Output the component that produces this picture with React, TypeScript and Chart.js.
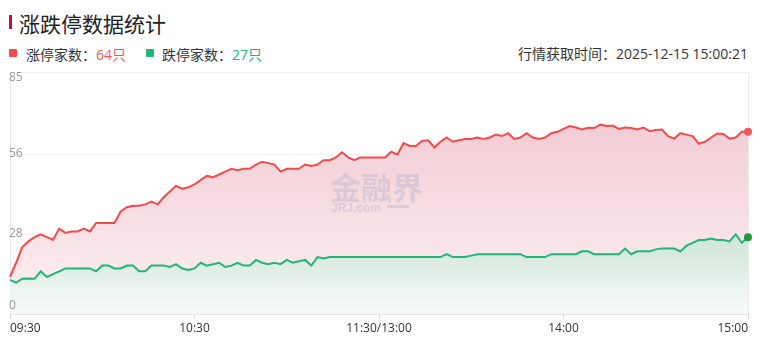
import React, { useEffect, useRef } from "react";
import { Chart, registerables } from "chart.js";

Chart.register(...registerables);

// 2-minute samples from 09:30 to 11:30 and 13:00 to 15:00
function buildTimes(): string[] {
  const out: string[] = [];
  const pad = (n: number) => (n < 10 ? "0" + n : "" + n);
  for (let m = 9 * 60 + 30; m <= 11 * 60 + 30; m += 2) {
    out.push(pad(Math.floor(m / 60)) + ":" + pad(m % 60));
  }
  out[out.length - 1] = "11:30/13:00";
  for (let m = 13 * 60 + 2; m <= 15 * 60; m += 2) {
    out.push(pad(Math.floor(m / 60)) + ":" + pad(m % 60));
  }
  return out;
}
const times = buildTimes();

const tickLabels = ["09:30", "10:30", "11:30/13:00", "14:00", "15:00"];
const yTicks = [0, 28, 56, 85];

const upCounts = [
  13, 18, 23.5, 25.5, 27, 28, 27, 26, 30, 28.5,
  29, 29, 30, 29, 32, 32, 32, 32, 36, 37.5,
  38, 38, 38.5, 39.5, 38.5, 41, 43, 45, 44, 44.5,
  45.5, 47, 48.5, 48, 49, 50, 51, 50.5, 51, 51,
  52.5, 53.5, 53, 52.5, 50, 51, 51, 51, 52.5, 52,
  52.5, 54, 54, 55, 56.8, 55, 54, 55, 55, 55,
  55, 55, 57, 56, 60, 59, 59, 60.8, 61, 58.5,
  60.5, 62, 60.5, 61, 61.5, 61.5, 62, 61.5, 62, 63,
  62.5, 63.5, 61.5, 62, 63.5, 62, 61.5, 62, 63.5, 64,
  65, 66, 65.5, 64.8, 65.4, 65.3, 66.5, 66, 66.2, 65,
  65.5, 65.3, 64.8, 65.5, 64.2, 64.6, 64.8, 62.5, 61.6, 63.5,
  63, 62.5, 59.8, 60.5, 62, 63.4, 63.2, 61.6, 62, 64,
  64,
];

const downCounts = [
  12, 11, 12.4, 12.5, 12.4, 15, 13, 14, 15, 16,
  16, 16, 16, 16, 15, 17, 17, 16, 16, 17,
  17, 15, 15, 17, 17, 17, 16.5, 17.5, 16, 15.5,
  16, 18, 17, 17.5, 18, 16.5, 17, 18, 17, 17,
  19, 18, 17.5, 18, 17.5, 19, 18, 18.5, 19, 17,
  20, 19.5, 20, 20, 20, 20, 20, 20, 20, 20,
  20, 20, 20, 20, 20, 20, 20, 20, 20, 20,
  20, 21, 20, 20, 20, 20.5, 21, 21, 21, 21,
  21, 21, 21, 21, 20, 20, 20, 20, 21, 21,
  21, 21, 21, 22, 22, 21, 21, 21, 21, 21,
  23, 21, 22, 22, 22, 22.7, 23, 23, 23, 22,
  24, 25, 26, 26, 26.5, 26, 26, 25.5, 28, 25,
  27,
];

const upLatest = 64;
const downLatest = 27;
const fetchTime = "2025-12-15 15:00:21";

const RED = "#f24b4b";
const GREEN = "#22b57a";
const FONT = "'Open Sans', 'Noto Sans CJK SC', sans-serif";
const CJK = "'Noto Sans CJK SC', 'Noto Sans', sans-serif";

const overlayPlugin = {
  id: "overlay",
  beforeDatasetsDraw(chart: any) {
    const { ctx, chartArea } = chart;
    ctx.save();
    ctx.strokeStyle = "#e9e9ee";
    ctx.lineWidth = 1;
    ctx.beginPath();
    ctx.moveTo(Math.round(chartArea.right) + 0.5, chartArea.top);
    ctx.lineTo(Math.round(chartArea.right) + 0.5, chartArea.bottom);
    ctx.stroke();
    ctx.restore();
  },
  afterDatasetsDraw(chart: any) {
    const { ctx, chartArea, scales } = chart;
    ctx.save();
    // watermark
    const cx = (chartArea.left + chartArea.right) / 2;
    ctx.globalAlpha = 0.4;
    ctx.fillStyle = "#b4aecb";
    ctx.font = `bold 31px ${CJK}`;
    ctx.textAlign = "left";
    ctx.textBaseline = "alphabetic";
    ctx.fillText("金融界", cx - 49, 139);
    ctx.font = `bold 12px Arial, 'Liberation Sans', sans-serif`;
    ctx.fillText("JRJ.com", cx - 48, 152);
    ctx.fillRect(cx + 8, 145, 22, 3);
    ctx.globalAlpha = 1;
    // y labels inside plot
    ctx.fillStyle = "#9a9a9a";
    ctx.font = `12px ${FONT}`;
    ctx.textAlign = "left";
    const y = scales.y;
    yTicks.forEach((v) => {
      const py = y.getPixelForValue(v);
      if (v === yTicks[yTicks.length - 1]) {
        ctx.textBaseline = "top";
        ctx.fillText(String(v), chartArea.left - 1, py + 0);
      } else if (v === yTicks[0]) {
        ctx.textBaseline = "bottom";
        ctx.fillText(String(v), chartArea.left - 1, py - 2);
      } else {
        ctx.textBaseline = "middle";
        ctx.fillText(String(v), chartArea.left - 1, py - 1);
      }
    });
    ctx.restore();
  },
};

function redFill(context: any) {
  const chart = context.chart;
  const { ctx, chartArea } = chart;
  if (!chartArea) return "rgba(240,200,210,0.6)";
  const g = ctx.createLinearGradient(0, chartArea.top, 0, chartArea.bottom);
  g.addColorStop(0, "#efc2cc");
  g.addColorStop(1, "#fdf2f4");
  return g;
}

function greenFill(context: any) {
  const chart = context.chart;
  const { ctx, chartArea, scales } = chart;
  if (!chartArea) return "rgba(200,230,215,0.6)";
  const top = scales.y.getPixelForValue(28);
  const g = ctx.createLinearGradient(0, top, 0, chartArea.bottom);
  g.addColorStop(0, "#cde4d6");
  g.addColorStop(1, "#f8fbf9");
  return g;
}

function ChartBox() {
  const ref = useRef<HTMLCanvasElement | null>(null);
  useEffect(() => {
    if (!ref.current) return;
    const last = times.length - 1;
    const chart = new Chart(ref.current, {
      type: "line",
      data: {
        labels: times,
        datasets: [
          {
            label: "涨停家数",
            data: upCounts,
            order: 2,
            borderColor: RED,
            borderWidth: 2,
            backgroundColor: redFill,
            fill: 1,
            tension: 0,
            pointRadius: (c: any) => (c.dataIndex === last ? 4 : 0),
            pointBackgroundColor: "#f25a5a",
            pointBorderWidth: 0,
          },
          {
            label: "跌停家数",
            data: downCounts,
            order: 1,
            borderColor: GREEN,
            borderWidth: 2,
            backgroundColor: greenFill,
            fill: "origin",
            tension: 0,
            pointRadius: (c: any) => (c.dataIndex === last ? 4 : 0),
            pointBackgroundColor: "#23973a",
            pointBorderWidth: 0,
          },
        ],
      },
      options: {
        animation: false,
        responsive: false,
        maintainAspectRatio: false,
        layout: { padding: { left: 10, right: 10, top: 12, bottom: 0 } },
        plugins: {
          legend: { display: false },
          tooltip: { enabled: false },
        },
        elements: { point: { hoverRadius: 0 } },
        scales: {
          x: {
            type: "category",
            offset: false,
            grid: {
              display: true,
              drawOnChartArea: false,
              drawTicks: true,
              tickLength: 5,
              color: "#d6d8e6",
            },
            border: { display: true, color: "#e4e4ea" },
            ticks: {
              autoSkip: false,
              maxRotation: 0,
              align: "inner",
              padding: 2,
              color: "#333",
              font: { size: 12, family: FONT },
              callback: (_v: any, i: number) =>
                tickLabels.includes(times[i]) ? times[i] : null,
            },
            afterFit: (s: any) => {
              s.height = 27;
            },
          },
          y: {
            min: 0,
            max: 85,
            afterBuildTicks: (s: any) => {
              s.ticks = yTicks.map((v) => ({ value: v }));
            },
            grid: { color: "#efeff3", drawTicks: false },
            border: { display: true, color: "#e4e4ea" },
            ticks: { display: false },
            afterFit: (s: any) => {
              s.width = 0;
            },
          },
        },
      },
      plugins: [overlayPlugin],
    });
    return () => chart.destroy();
  }, []);
  return (
    <canvas
      ref={ref}
      width={758}
      height={281}
      style={{ position: "absolute", left: 0, top: 60, width: 758, height: 281 }}
    />
  );
}

export default function App() {
  return (
    <div
      style={{
        position: "fixed",
        left: 0,
        top: 0,
        width: 758,
        height: 352,
        background: "#fff",
        fontFamily: FONT,
        overflow: "hidden",
      }}
    >
      <div
        style={{
          position: "absolute",
          left: 9,
          top: 15,
          width: 3,
          height: 14,
          background: "#c8102e",
        }}
      />
      <div
        style={{
          position: "absolute",
          left: 19,
          top: 9,
          fontSize: 21,
          lineHeight: "28px",
          color: "#222",
          fontFamily: CJK,
          whiteSpace: "nowrap",
        }}
      >
        涨跌停数据统计
      </div>
      <div
        style={{
          position: "absolute",
          left: 9,
          top: 44,
          height: 20,
          display: "flex",
          alignItems: "center",
          fontSize: 14,
          color: "#333",
          whiteSpace: "nowrap",
        }}
      >
        <span
          style={{
            display: "inline-block",
            width: 8,
            height: 8,
            borderRadius: 1,
            background: RED,
            marginRight: 9,
            marginTop: -2,
          }}
        />
        <span>涨停家数：</span>
        <span style={{ color: "#f25a5a" }}>{upLatest}只</span>
        <span
          style={{
            display: "inline-block",
            width: 8,
            height: 8,
            borderRadius: 1,
            background: GREEN,
            marginLeft: 20,
            marginRight: 8,
            marginTop: -2,
          }}
        />
        <span>跌停家数：</span>
        <span style={{ color: GREEN }}>{downLatest}只</span>
      </div>
      <div
        style={{
          position: "absolute",
          right: 10,
          top: 44,
          height: 20,
          lineHeight: "20px",
          fontSize: 14,
          color: "#333",
          whiteSpace: "nowrap",
        }}
      >
        行情获取时间：{fetchTime}
      </div>
      <ChartBox />
    </div>
  );
}
